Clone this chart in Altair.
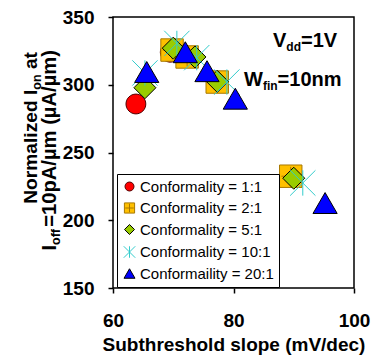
import altair as alt
import pandas as pd

FONT = "Liberation Sans"

series_names = ["Conformality = 1:1", "Conformality = 2:1", "Conformality = 5:1",
                "Conformality = 10:1", "Conformaility = 20:1"]

ss_11 = [63.8, 69.5]
ion_11 = [285.8, 324.0]
ss_21 = [69.8, 72.3, 77.3, 89.5]
ion_21 = [325.6, 320.5, 302.0, 232.5]
ss_51 = [65.3, 70.0, 73.6, 77.3, 90.0]
ion_51 = [297.8, 327.0, 320.5, 302.5, 231.0]
ss_101 = [65.3, 70.6, 73.9, 78.9, 91.5]
ion_101 = [308.7, 330.5, 320.0, 302.0, 227.5]
ss_201 = [65.6, 72.0, 75.6, 80.3, 95.2]
ion_201 = [309.4, 324.0, 310.0, 289.7, 212.7]

x_ticks = [60, 80, 100]
y_ticks = [150, 200, 250, 300, 350]

rows = []
for name, xs, ys in zip(series_names,
                        [ss_11, ss_21, ss_51, ss_101, ss_201],
                        [ion_11, ion_21, ion_51, ion_101, ion_201]):
    for a, b in zip(xs, ys):
        rows.append({"series": name, "ss": a, "ion": b})
df = pd.DataFrame(rows)

shapes = ["M-0.9,0A0.9,0.9 0 1,0 0.9,0A0.9,0.9 0 1,0 -0.9,0Z",
          "M-1.02,-1.02H1.02V1.02H-1.02ZM0,-0.85V0.85M-0.85,0H0.85",
          "M-1,0L0,-1L1,0L0,1Z",
          "M0,-1.15V1.15M-1.15,-1.15L1.15,1.15M-1.15,1.15L1.15,-1.15",
          "M0,-0.95L1.1,0.95L-1.1,0.95Z"]
fills = ["#FF0000", "#FFC000", "#99CC00", "#33CCCC", "#0000FF"]
strokes = ["#500000", "#A87800", "#000000", "#33CCCC", "#000000"]

shape_scale = alt.Scale(domain=series_names, range=shapes)
fill_scale = alt.Scale(domain=series_names, range=fills)
stroke_scale = alt.Scale(domain=series_names, range=strokes)

points = alt.Chart(df).mark_point(filled=True, opacity=1, strokeWidth=1, size=484).encode(
    x=alt.X("ss:Q", scale=alt.Scale(domain=[60, 100], nice=False, zero=False),
            axis=alt.Axis(values=x_ticks, title="Subthreshold slope (mV/dec)",
                          titleFont=FONT, titleFontSize=19, titleFontWeight="bold",
                          titleColor="black", titleY=62, titleBaseline="alphabetic",
                          labelFont=FONT, labelFontSize=19, labelFontWeight="bold",
                          labelColor="black", labelPadding=18, labelFlush=False,
                          tickSize=5, tickWidth=1.5, tickColor="black",
                          domain=False, grid=False)),
    y=alt.Y("ion:Q", scale=alt.Scale(domain=[150, 350], nice=False, zero=False),
            axis=alt.Axis(values=y_ticks, title=None,
                          labelFont=FONT, labelFontSize=19, labelFontWeight="bold",
                          labelColor="black", labelPadding=14, labelFlush=False,
                          tickSize=5, tickWidth=1.5, tickColor="black",
                          domain=False, grid=False)),
    shape=alt.Shape("series:N", scale=shape_scale, legend=None),
    fill=alt.Fill("series:N", scale=fill_scale, legend=None),
    stroke=alt.Stroke("series:N", scale=stroke_scale, legend=None),
)

legend_cfg = alt.Legend(title=None, orient="none", legendX=4, legendY=157,
                        strokeColor="black", fillColor="white", padding=5,
                        labelFont=FONT, labelFontSize=15, labelColor="black",
                        rowPadding=5.5, labelOffset=3,
                        symbolStrokeWidth=1, labelLimit=300)

legend_layer = alt.Chart(df).transform_filter("false").mark_point(
    filled=True, opacity=1, strokeWidth=1, size=230).encode(
    shape=alt.Shape("series:N", scale=shape_scale, legend=legend_cfg),
    fill=alt.Fill("series:N", scale=fill_scale, legend=legend_cfg),
    stroke=alt.Stroke("series:N", scale=stroke_scale, legend=legend_cfg),
)

one = pd.DataFrame({"k": [0]})


def txt(s, x, y, size=19, angle=0, align="left"):
    props = dict(text=s, font=FONT, fontSize=size, fontWeight="bold", color="black",
                 align=align, baseline="alphabetic")
    if angle:
        props["angle"] = angle
    return alt.Chart(one).mark_text(**props).encode(x=alt.value(x), y=alt.value(y))


Y1 = 19.2
Y2 = 20.2
YS = 12.5
l1_a = 35
l1_b = l1_a + 1167 * Y1 / 1000
l1_c = l1_b + 1222 * YS / 1000
l2_a = 33
l2_b = l2_a + 8862 * Y2 / 1000
l2_c = l2_b + 1277 * YS / 1000

layers = [points, legend_layer,
          # Vdd annotation
          txt("V", 160, 30, 20), txt("dd", 173.3, 34, 12), txt("=1V", 188, 30, 20),
          # Wfin annotation
          txt("W", 131, 69, 20), txt("fin", 149.9, 73, 12), txt("=10nm", 164.6, 69, 20),
          # Y title line 1
          txt(" at", -76, l1_a, Y1, 270, "right"),
          txt("on", -72, l1_b, YS, 270, "right"),
          txt("Normalized I", -76, l1_c, Y1, 270, "right"),
          # Y title line 2
          txt("=10pA/µm (µA/µm)", -57, l2_a, Y2, 270, "right"),
          txt("off", -53, l2_b, YS, 270, "right"),
          txt("I", -57, l2_c, Y2, 270, "right"),
          ]

chart = alt.layer(*layers).resolve_scale(
    shape="independent", fill="independent", stroke="independent"
).resolve_legend(
    shape="independent", fill="independent", stroke="independent"
).properties(
    width=241, height=271,
    autosize=alt.AutoSizeParams(type="none"),
    padding={"left": 113, "top": 17, "right": 20, "bottom": 69},
    background="white",
).configure_view(stroke="black", strokeWidth=1.5)

chart.save("out.html", embed_options={"renderer": "svg", "actions": False})
